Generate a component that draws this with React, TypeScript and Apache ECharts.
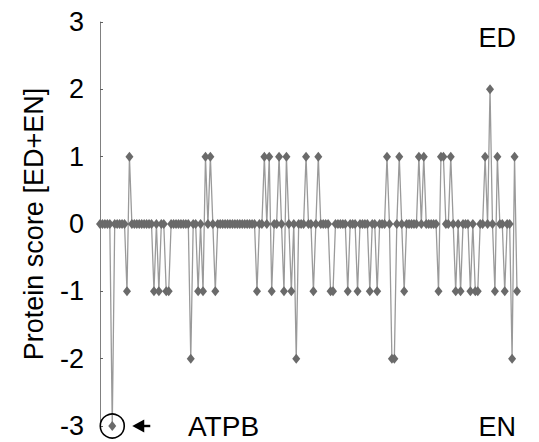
import React, { useEffect, useRef } from "react";
import * as echarts from "echarts";

// Protein scores [ED+EN], one per protein, read left to right
const scores: number[] = [
  0, 0, 0, 0, 0, -3, 0, 0, 0, 0,
  0, -1, 1, 0, 0, 0, 0, 0, 0, 0,
  0, 0, -1, 0, -1, 0, 0, -1, -1, 0,
  0, 0, 0, 0, 0, 0, 0, -2, 0, 0,
  -1, 0, -1, 1, 0, 1, 0, -1, 0, 0,
  0, 0, 0, 0, 0, 0, 0, 0, 0, 0,
  0, 0, 0, 0, -1, 0, 0, 1, 0, 1,
  -1, 0, 0, 1, 0, -1, 1, 0, -1, 0,
  -2, 0, 0, 0, 1, 0, 0, -1, 0, 1,
  0, 0, 0, 0, -1, -1, 0, 0, 0, 0,
  0, -1, 0, 0, 0, -1, 0, 0, 0, 0,
  -1, 0, 0, -1, 0, 0, 0, 1, 0, -2,
  -2, 0, 1, 0, -1, 0, 0, 0, 0, 0,
  1, 0, 1, 0, 0, 0, 0, 0, -1, 1,
  1, 0, 0, 1, 0, -1, 0, -1, 0, 0,
  0, -1, 0, -1, -1, 0, 0, 1, 0, 2,
  0, -1, 1, 0, 0, -1, 0, 0, -2, 1,
  -1,
];
const proteins: string[] = scores.map((_, i) => `P${i + 1}`);
const yTicks = { min: -3, max: 3, interval: 1 };
const highlightIndex = 5; // ATPB
const highlightLabel = "ATPB";
const topLabel = "ED";
const bottomLabel = "EN";
const yName = "Protein score [ED+EN]";

const FONT = "'Liberation Sans', Arial, Helvetica, sans-serif";

export default function App() {
  const ref = useRef<HTMLDivElement>(null);
  useEffect(() => {
    if (!ref.current) return;
    const chart = echarts.init(ref.current, null, { renderer: "svg" });
    chart.setOption({
      animation: false,
      backgroundColor: "#ffffff",
      grid: { left: 100, right: 22, top: 22, bottom: 16, containLabel: false },
      xAxis: {
        type: "category",
        data: proteins,
        boundaryGap: false,
        show: false,
      },
      yAxis: {
        type: "value",
        min: yTicks.min,
        max: yTicks.max,
        interval: yTicks.interval,
        name: yName,
        nameLocation: "middle",
        nameGap: 53,
        nameTextStyle: { fontFamily: FONT, fontSize: 27, color: "#000" },
        axisLine: { show: true, lineStyle: { color: "#808080", width: 1 } },
        axisTick: { show: true, inside: true, length: 3, lineStyle: { color: "#606060" } },
        axisLabel: { fontFamily: FONT, fontSize: 27, color: "#000", margin: 16 },
        splitLine: { show: false },
      },
      series: [
        {
          type: "line",
          data: scores,
          symbol: "diamond",
          symbolSize: [8, 10],
          showAllSymbol: true,
          lineStyle: { color: "#9a9a9a", width: 1.3 },
          itemStyle: { color: "#6a6a6a" },
        },
      ],
    });
    const [px, py] = chart.convertToPixel({ gridIndex: 0 }, [highlightIndex, scores[highlightIndex]]) as number[];
    chart.setOption({
      graphic: [
        {
          type: "circle",
          shape: { cx: px, cy: py, r: 12 },
          style: { fill: "none", stroke: "#000", lineWidth: 1.6 },
          z: 100,
        },
        {
          type: "polygon",
          shape: { points: [[px + 20, py], [px + 32, py - 6.5], [px + 32, py + 6.5]] },
          style: { fill: "#000" },
          z: 100,
        },
        {
          type: "line",
          shape: { x1: px + 30, y1: py, x2: px + 38, y2: py },
          style: { stroke: "#000", lineWidth: 2.4 },
          z: 100,
        },
        {
          type: "text",
          x: 188,
          y: py,
          style: { text: highlightLabel, font: `28px ${FONT}`, fill: "#000", verticalAlign: "middle" },
          z: 100,
        },
        {
          type: "text",
          x: 516,
          y: 38,
          style: { text: topLabel, font: `27px ${FONT}`, fill: "#000", align: "right", verticalAlign: "middle" },
          z: 100,
        },
        {
          type: "text",
          x: 516,
          y: py + 1,
          style: { text: bottomLabel, font: `27px ${FONT}`, fill: "#000", align: "right", verticalAlign: "middle" },
          z: 100,
        },
      ],
    });
    return () => chart.dispose();
  }, []);
  return (
    <div
      ref={ref}
      style={{ position: "fixed", left: 0, top: 0, width: 539, height: 442 }}
    />
  );
}
